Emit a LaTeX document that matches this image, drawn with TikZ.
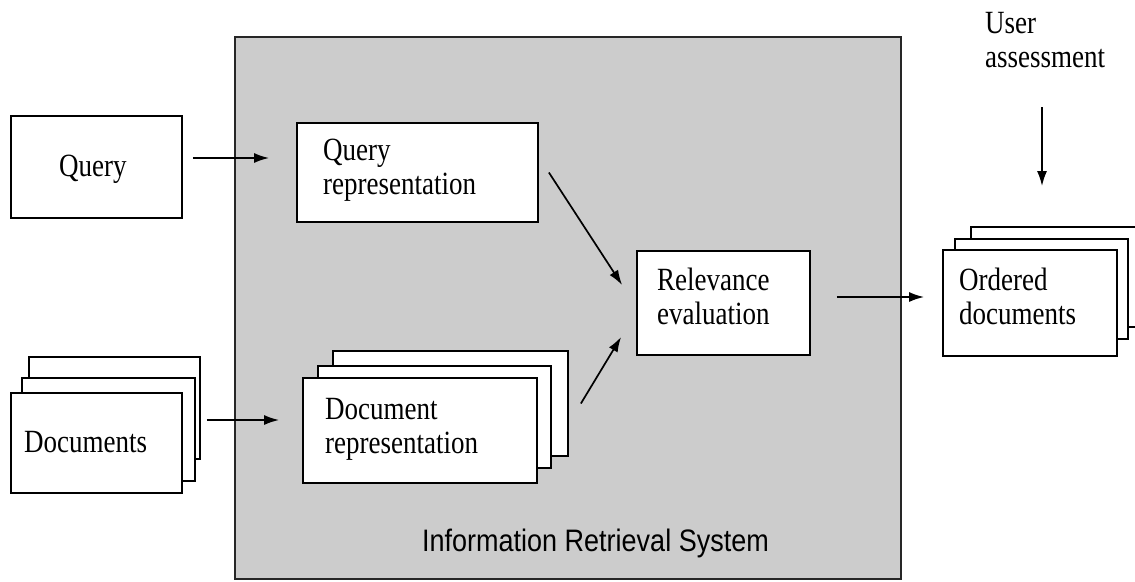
\documentclass[tikz,border=0pt]{standalone}
\usepackage{fontspec}
\setmainfont{Liberation Serif}
\newfontfamily\labelfont{Liberation Sans}
\usepackage{graphicx}
\usetikzlibrary{arrows.meta,calc}
\definecolor{sysgray}{HTML}{CCCCCC}
\newcommand{\txtlines}[1]{\scalebox{1}[1.2]{\begin{tabular}[t]{@{}l@{}}#1\end{tabular}}}
\begin{document}
\begin{tikzpicture}[x=1pt,y=-1pt,
  box/.style={draw, line width=1.8pt, fill=white, inner sep=0pt, rectangle},
  sysbox/.style={draw=black!85, line width=2.2pt, fill=sysgray, inner sep=0pt, rectangle},
  lbl/.style={inner sep=0pt, anchor=base west, font=\fontsize{27}{29}\selectfont},
  syslbl/.style={inner sep=0pt, anchor=base west, font=\labelfont\fontsize{27}{29}\selectfont},
  arr/.style={line width=1.7pt, -{Latex[length=15pt,width=10pt]}}]
\useasboundingbox (0,0) rectangle (1135,581);
% system container
\node[sysbox, minimum width=666, minimum height=542] (irs) at (568,308) {};
\node[syslbl] (irslbl) at (422,551) {\scalebox{1}[1.15]{Information Retrieval System}};
% query
\node[box, minimum width=171, minimum height=102] (query) at (96.5,167) {};
\node[lbl] (querytxt) at (59,176) {\txtlines{Query}};
% query representation
\node[box, minimum width=241, minimum height=99] (qrep) at (417.5,172.5) {};
\node[lbl] (qreptxt) at (323,160) {\txtlines{Query\\representation}};
% documents stack
\node[box, minimum width=171, minimum height=102] (docs3) at (114.5,408) {};
\node[box, minimum width=173, minimum height=103] (docs2) at (108.5,429.5) {};
\node[box, minimum width=171, minimum height=100] (docs1) at (96.5,443) {};
\node[lbl] (docstxt) at (24,452) {\txtlines{Documents}};
% document representation stack
\node[box, minimum width=235, minimum height=105] (drep3) at (450.5,403.5) {};
\node[box, minimum width=233, minimum height=102] (drep2) at (434.5,417) {};
\node[box, minimum width=234, minimum height=105] (drep1) at (420,430.5) {};
\node[lbl] (dreptxt) at (325,419) {\txtlines{Document\\representation}};
% relevance evaluation
\node[box, minimum width=173, minimum height=104] (rel) at (723.5,303) {};
\node[lbl] (reltxt) at (657,290) {\txtlines{Relevance\\evaluation}};
% ordered documents stack
\node[box, minimum width=169, minimum height=100] (ord3) at (1055.5,277) {};
\node[box, minimum width=173, minimum height=100] (ord2) at (1041.5,289) {};
\node[box, minimum width=174, minimum height=106] (ord1) at (1030,303) {};
\node[lbl] (ordtxt) at (959,290) {\txtlines{Ordered\\documents}};
% user assessment
\node[lbl] (user) at (985,33) {\txtlines{User\\assessment}};
\coordinate (ua) at (1042,107);
% connectors
\draw[arr] ($(query.east)+(10,-9)$) -- ($(qrep.west)+(-27,-14.5)$);
\draw[arr] ($(docs3.east)+(6,12)$) -- ($(drep1.west)+(-23,-10.5)$);
\draw[arr] ($(qrep.east)+(10,0)$) -- ($(rel.west)+(-14,-18)$);
\draw[arr] ($(drep3.east)+(12,0)$) -- ($(rel.west)+(-15,34)$);
\draw[arr] ($(rel.east)+(26,-6)$) -- ($(ord1.west)+(-18,-6)$);
\draw[arr] (ua) -- ($(ord3.north)+(-13.5,-40)$);
\end{tikzpicture}
\end{document}
